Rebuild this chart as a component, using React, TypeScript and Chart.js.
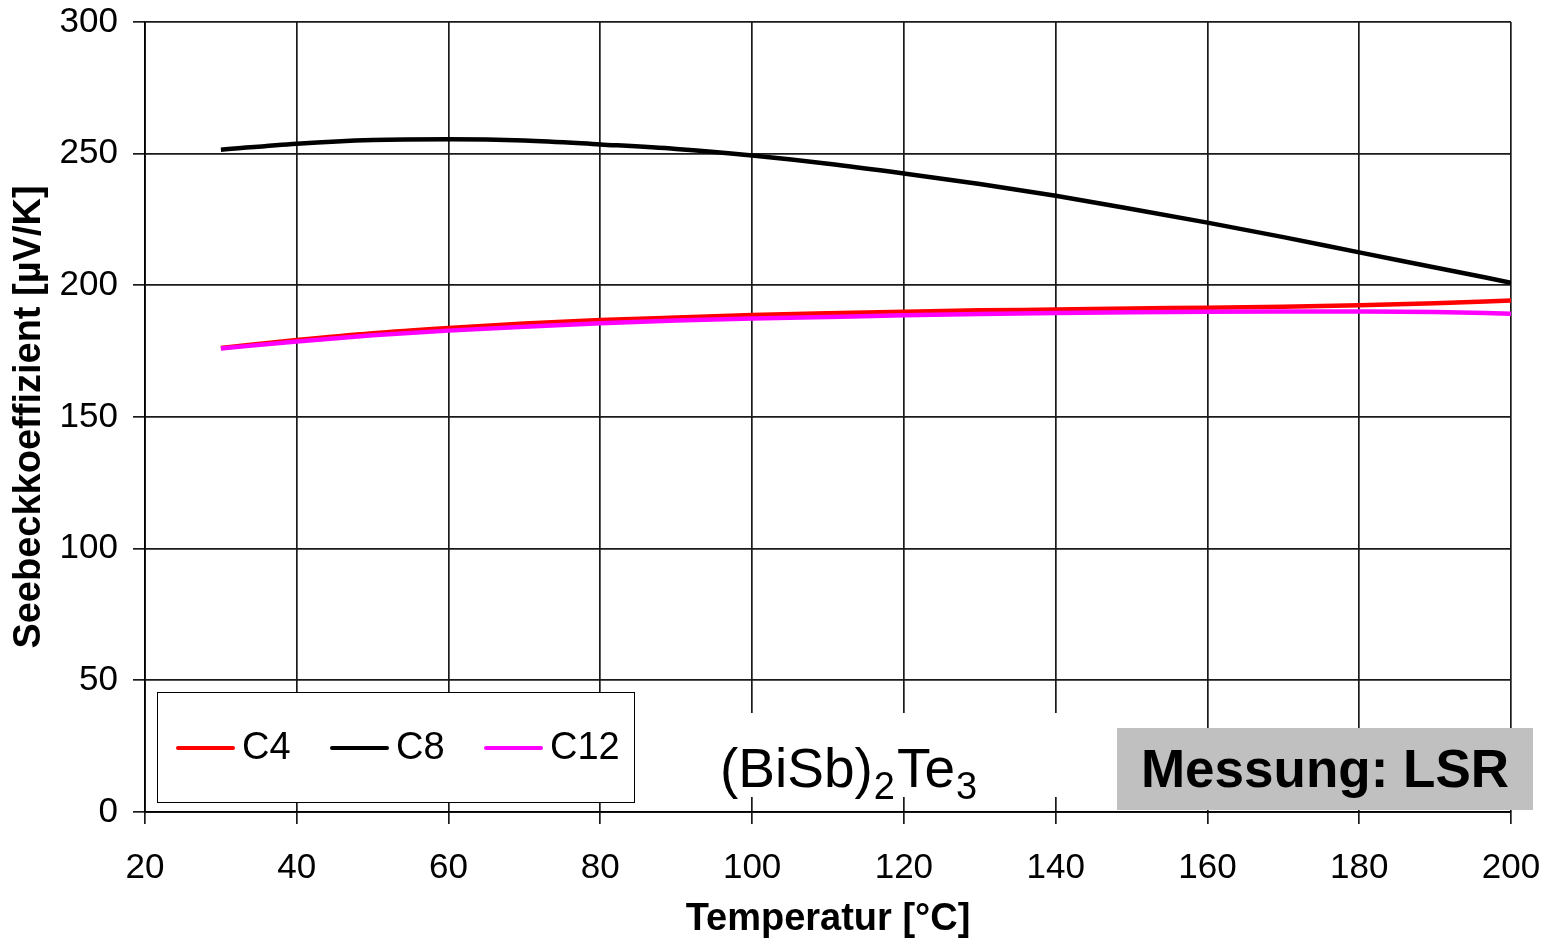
import React, { useEffect, useRef } from "react";
import { Chart, registerables } from "chart.js";

Chart.register(...registerables);

const temperatures = [30, 40, 50, 60, 70, 80, 90, 100, 110, 120, 130, 140, 150, 160, 170, 180, 190, 200];
const c4Values = [176.2, 179.2, 181.8, 183.8, 185.5, 186.8, 187.8, 188.7, 189.4, 190.0, 190.5, 190.8, 191.2, 191.5, 191.9, 192.4, 193.2, 194.2];
const c8Values = [251.5, 253.8, 255.2, 255.5, 255.0, 253.5, 251.8, 249.3, 246.2, 242.5, 238.5, 234.0, 229.0, 223.8, 218.3, 212.5, 206.8, 201.0];
const c12Values = [176.0, 178.7, 181.0, 182.8, 184.3, 185.6, 186.6, 187.4, 188.0, 188.6, 189.1, 189.5, 189.8, 190.0, 190.1, 190.1, 189.9, 189.2];
const seriesNames = ["C4", "C8", "C12"];
const seriesColors = ["#ff0000", "#000000", "#ff00ff"];
const xTitle = "Temperatur [°C]";
const yTitle = "Seebeckkoeffizient [µV/K]";
const formulaParts = [
  { text: "(BiSb)", sub: false },
  { text: "2", sub: true },
  { text: "Te", sub: false },
  { text: "3", sub: true },
];
const measurementLabel = "Messung: LSR";

const FONT = "'Liberation Sans', Arial, sans-serif";

const zeroPad = (scale: any) => {
  scale.paddingTop = 0;
  scale.paddingBottom = 0;
  scale.paddingLeft = 0;
  scale.paddingRight = 0;
};

const overlayPlugin = {
  id: "overlay",
  afterDraw(chart: any) {
    const ctx = chart.ctx;
    const area = chart.chartArea;
    ctx.save();
    // legend box
    const lx = area.left + 12;
    const ly = area.bottom - 120;
    const lw = 477;
    const lh = 110;
    ctx.fillStyle = "#ffffff";
    ctx.fillRect(lx, ly, lw, lh);
    ctx.strokeStyle = "#000000";
    ctx.lineWidth = 1;
    ctx.strokeRect(lx + 0.5, ly + 0.5, lw, lh);
    const entryX = [lx + 21, lx + 175, lx + 329];
    const legendY = ly + 56;
    ctx.font = `38px ${FONT}`;
    ctx.textBaseline = "middle";
    ctx.textAlign = "left";
    seriesNames.forEach((name, i) => {
      ctx.strokeStyle = seriesColors[i];
      ctx.lineWidth = 4;
      ctx.lineCap = "round";
      ctx.beginPath();
      ctx.moveTo(entryX[i], legendY);
      ctx.lineTo(entryX[i] + 55, legendY);
      ctx.stroke();
      ctx.fillStyle = "#000000";
      ctx.fillText(name, entryX[i] + 64, legendY + 1);
    });

    // formula with white backing
    ctx.fillStyle = "#ffffff";
    ctx.fillRect(area.left + 560, area.bottom - 99, 395, 84);
    let fx = area.left + 575;
    const baseY = area.bottom - 25;
    ctx.textBaseline = "alphabetic";
    ctx.fillStyle = "#000000";
    formulaParts.forEach((p) => {
      ctx.font = p.sub ? `38px ${FONT}` : `55px ${FONT}`;
      ctx.fillText(p.text, fx, p.sub ? baseY + 12 : baseY);
      fx += ctx.measureText(p.text).width + (p.sub ? 2 : 1);
    });

    // measurement box
    const gx = area.left + 972;
    const gy = area.bottom - 84;
    ctx.fillStyle = "#c0c0c0";
    ctx.fillRect(gx, gy, 416, 82);
    ctx.fillStyle = "#000000";
    ctx.font = `bold 53px ${FONT}`;
    ctx.textAlign = "center";
    ctx.textBaseline = "middle";
    ctx.fillText(measurementLabel, gx + 208, gy + 44);
    ctx.restore();
  },
};

export default function App() {
  const canvasRef = useRef<HTMLCanvasElement | null>(null);

  useEffect(() => {
    if (!canvasRef.current) return;
    const toPoints = (vals: number[]) => temperatures.map((t, i) => ({ x: t, y: vals[i] }));
    const chart = new Chart(canvasRef.current, {
      type: "line",
      data: {
        datasets: [
          { label: seriesNames[0], data: toPoints(c4Values), borderColor: seriesColors[0], order: 2 },
          { label: seriesNames[1], data: toPoints(c8Values), borderColor: seriesColors[1], order: 1 },
          { label: seriesNames[2], data: toPoints(c12Values), borderColor: seriesColors[2], order: 0 },
        ].map((d) => ({
          ...d,
          borderWidth: 4.5,
          pointRadius: 0,
          fill: false,
          cubicInterpolationMode: "monotone" as const,
        })),
      },
      options: {
        animation: false,
        responsive: false,
        maintainAspectRatio: false,
        layout: { padding: { top: 22, right: 38, left: 0, bottom: 0 } },
        plugins: { legend: { display: false }, tooltip: { enabled: false } },
        scales: {
          x: {
            type: "linear",
            min: 20,
            max: 200,
            ticks: { stepSize: 20, color: "#000", font: { family: FONT, size: 35 }, padding: 23, maxRotation: 0 },
            grid: { color: "#1a1a1a", lineWidth: 1.7, tickLength: 12 },
            border: { color: "#000", width: 1.7 },
            title: { display: true, text: xTitle, color: "#000", font: { family: FONT, size: 38, weight: "bold" }, padding: { top: 0, bottom: -2 } },
            afterFit: (scale: any) => {
              scale.height = 128;
              zeroPad(scale);
            },
          },
          y: {
            min: 0,
            max: 300,
            ticks: { stepSize: 50, color: "#000", font: { family: FONT, size: 35 }, padding: 15 },
            grid: { color: "#1a1a1a", lineWidth: 1.7, tickLength: 12 },
            border: { color: "#000", width: 1.7 },
            title: { display: true, text: yTitle, color: "#000", font: { family: FONT, size: 38, weight: "bold" }, padding: { top: 7, bottom: 0 } },
            afterFit: (scale: any) => {
              scale.width = 145;
              zeroPad(scale);
            },
          },
        },
      },
      plugins: [overlayPlugin],
    });
    return () => chart.destroy();
  }, []);

  return (
    <div style={{ position: "fixed", left: 0, top: 0, width: 1549, height: 940, background: "#fff" }}>
      <canvas ref={canvasRef} width={1549} height={940} style={{ width: 1549, height: 940 }} />
    </div>
  );
}
